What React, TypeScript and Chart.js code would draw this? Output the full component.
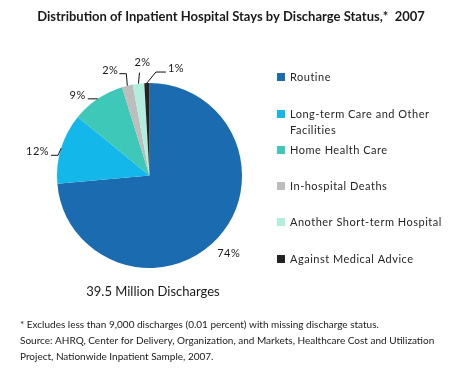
import React, { useEffect, useRef } from "react";
import { Chart, registerables } from "chart.js";

Chart.register(...registerables);

const TITLE = "Distribution of Inpatient Hospital Stays by Discharge Status,*  2007";
const CATEGORIES = [
  ["Routine"],
  ["Long-term Care and Other", "Facilities"],
  ["Home Health Care"],
  ["In-hospital Deaths"],
  ["Another Short-term Hospital"],
  ["Against Medical Advice"],
];
const SHARES = [73.6, 12.3, 9.3, 1.9, 2.0, 0.9];
const COLORS = ["#1b6bb0", "#14b7e9", "#3dc8b8", "#bdbdbd", "#b2eedd", "#232323"];
const SUBTITLE = "39.5 Million Discharges";
const FOOTNOTES = [
  "* Excludes less than 9,000 discharges (0.01 percent) with missing discharge status.",
  "Source: AHRQ, Center for Delivery, Organization, and Markets, Healthcare Cost and Utilization",
  "Project, Nationwide Inpatient Sample, 2007.",
];

const FONT = "Lato, 'Open Sans', sans-serif";
const TEXT = "#1a1a1a";

// label layout per slice: leader polyline offsets relative to the slice's outer-edge midpoint, and text placement
type Spec = { pts: [number, number][]; tx: number; ty: number; align: CanvasTextAlign };
const SPECS: Spec[] = [
  { pts: [], tx: 11, ty: 19, align: "center" },
  { pts: [[-3, 7], [-10, 7]], tx: -12, ty: 7, align: "right" },
  { pts: [[-10, 0]], tx: -12, ty: 0, align: "right" },
  { pts: [[-1, -12], [-8, -12]], tx: -9, ty: -12, align: "right" },
  { pts: [[1, -11]], tx: 4, ty: -18, align: "center" },
  { pts: [[9, -11], [19, -11]], tx: 21, ty: -11, align: "left" },
];

const decorPlugin = {
  id: "decor",
  afterDraw(chart: any) {
    const ctx: any = chart.ctx;
    ctx.save();
    // title
    ctx.fillStyle = TEXT;
    ctx.font = `bold 13px ${FONT}`;
    ctx.textAlign = "center";
    ctx.textBaseline = "middle";
    ctx.fillText(TITLE, 231, 17);

    // percentage labels with leader lines
    const meta = chart.getDatasetMeta(0);
    ctx.font = `11px ${FONT}`;
    ctx.letterSpacing = "0.5px";
    ctx.strokeStyle = "#111";
    ctx.lineWidth = 1;
    meta.data.forEach((arc: any, i: number) => {
      const mid = (arc.startAngle + arc.endAngle) / 2;
      const ex = arc.x + Math.cos(mid) * arc.outerRadius;
      const ey = arc.y + Math.sin(mid) * arc.outerRadius;
      const s = SPECS[i];
      if (s.pts.length) {
        ctx.beginPath();
        ctx.moveTo(ex, ey);
        s.pts.forEach(([dx, dy]) => ctx.lineTo(ex + dx, ey + dy));
        ctx.stroke();
      }
      ctx.textAlign = s.align;
      ctx.textBaseline = "alphabetic";
      ctx.fillStyle = TEXT;
      ctx.fillText(Math.round(SHARES[i]) + "%", ex + s.tx, ey + s.ty);
    });
    ctx.letterSpacing = "0px";

    // subtitle
    ctx.font = `13px ${FONT}`;
    ctx.textAlign = "center";
    ctx.textBaseline = "middle";
    ctx.fillText(SUBTITLE, 153, 292);

    // legend
    const legendY = [77, 114, 150, 186, 222, 259];
    ctx.font = `11px ${FONT}`;
    ctx.letterSpacing = "0.5px";
    ctx.textAlign = "left";
    CATEGORIES.forEach((lines, i) => {
      ctx.fillStyle = COLORS[i];
      ctx.fillRect(277, legendY[i] - 4, 8, 8);
      ctx.fillStyle = "#262626";
      lines.forEach((ln, j) => ctx.fillText(ln, 290, legendY[i] + j * 16));
    });
    ctx.letterSpacing = "0px";

    // footnotes
    ctx.fillStyle = TEXT;
    ctx.font = `10px ${FONT}`;
    FOOTNOTES.forEach((ln, j) => ctx.fillText(ln, 20, 325 + j * 16));
    ctx.restore();
  },
};

export default function App() {
  const ref = useRef<HTMLCanvasElement>(null);
  useEffect(() => {
    if (!ref.current) return;
    const chart = new Chart(ref.current, {
      type: "pie",
      data: {
        labels: CATEGORIES.map((c) => c.join(" ")),
        datasets: [
          {
            data: SHARES,
            backgroundColor: COLORS,
            borderWidth: 0,
          },
        ],
      },
      options: {
        responsive: false,
        animation: false,
        devicePixelRatio: 1,
        layout: { padding: { left: 57, right: 221, top: 83, bottom: 105 } },
        plugins: { legend: { display: false }, title: { display: false }, tooltip: { enabled: false } },
      },
      plugins: [decorPlugin],
    });
    return () => chart.destroy();
  }, []);
  return (
    <div style={{ position: "fixed", left: 0, top: 0, width: 463, height: 373, background: "#fff" }}>
      <canvas ref={ref} width={463} height={373} />
    </div>
  );
}
